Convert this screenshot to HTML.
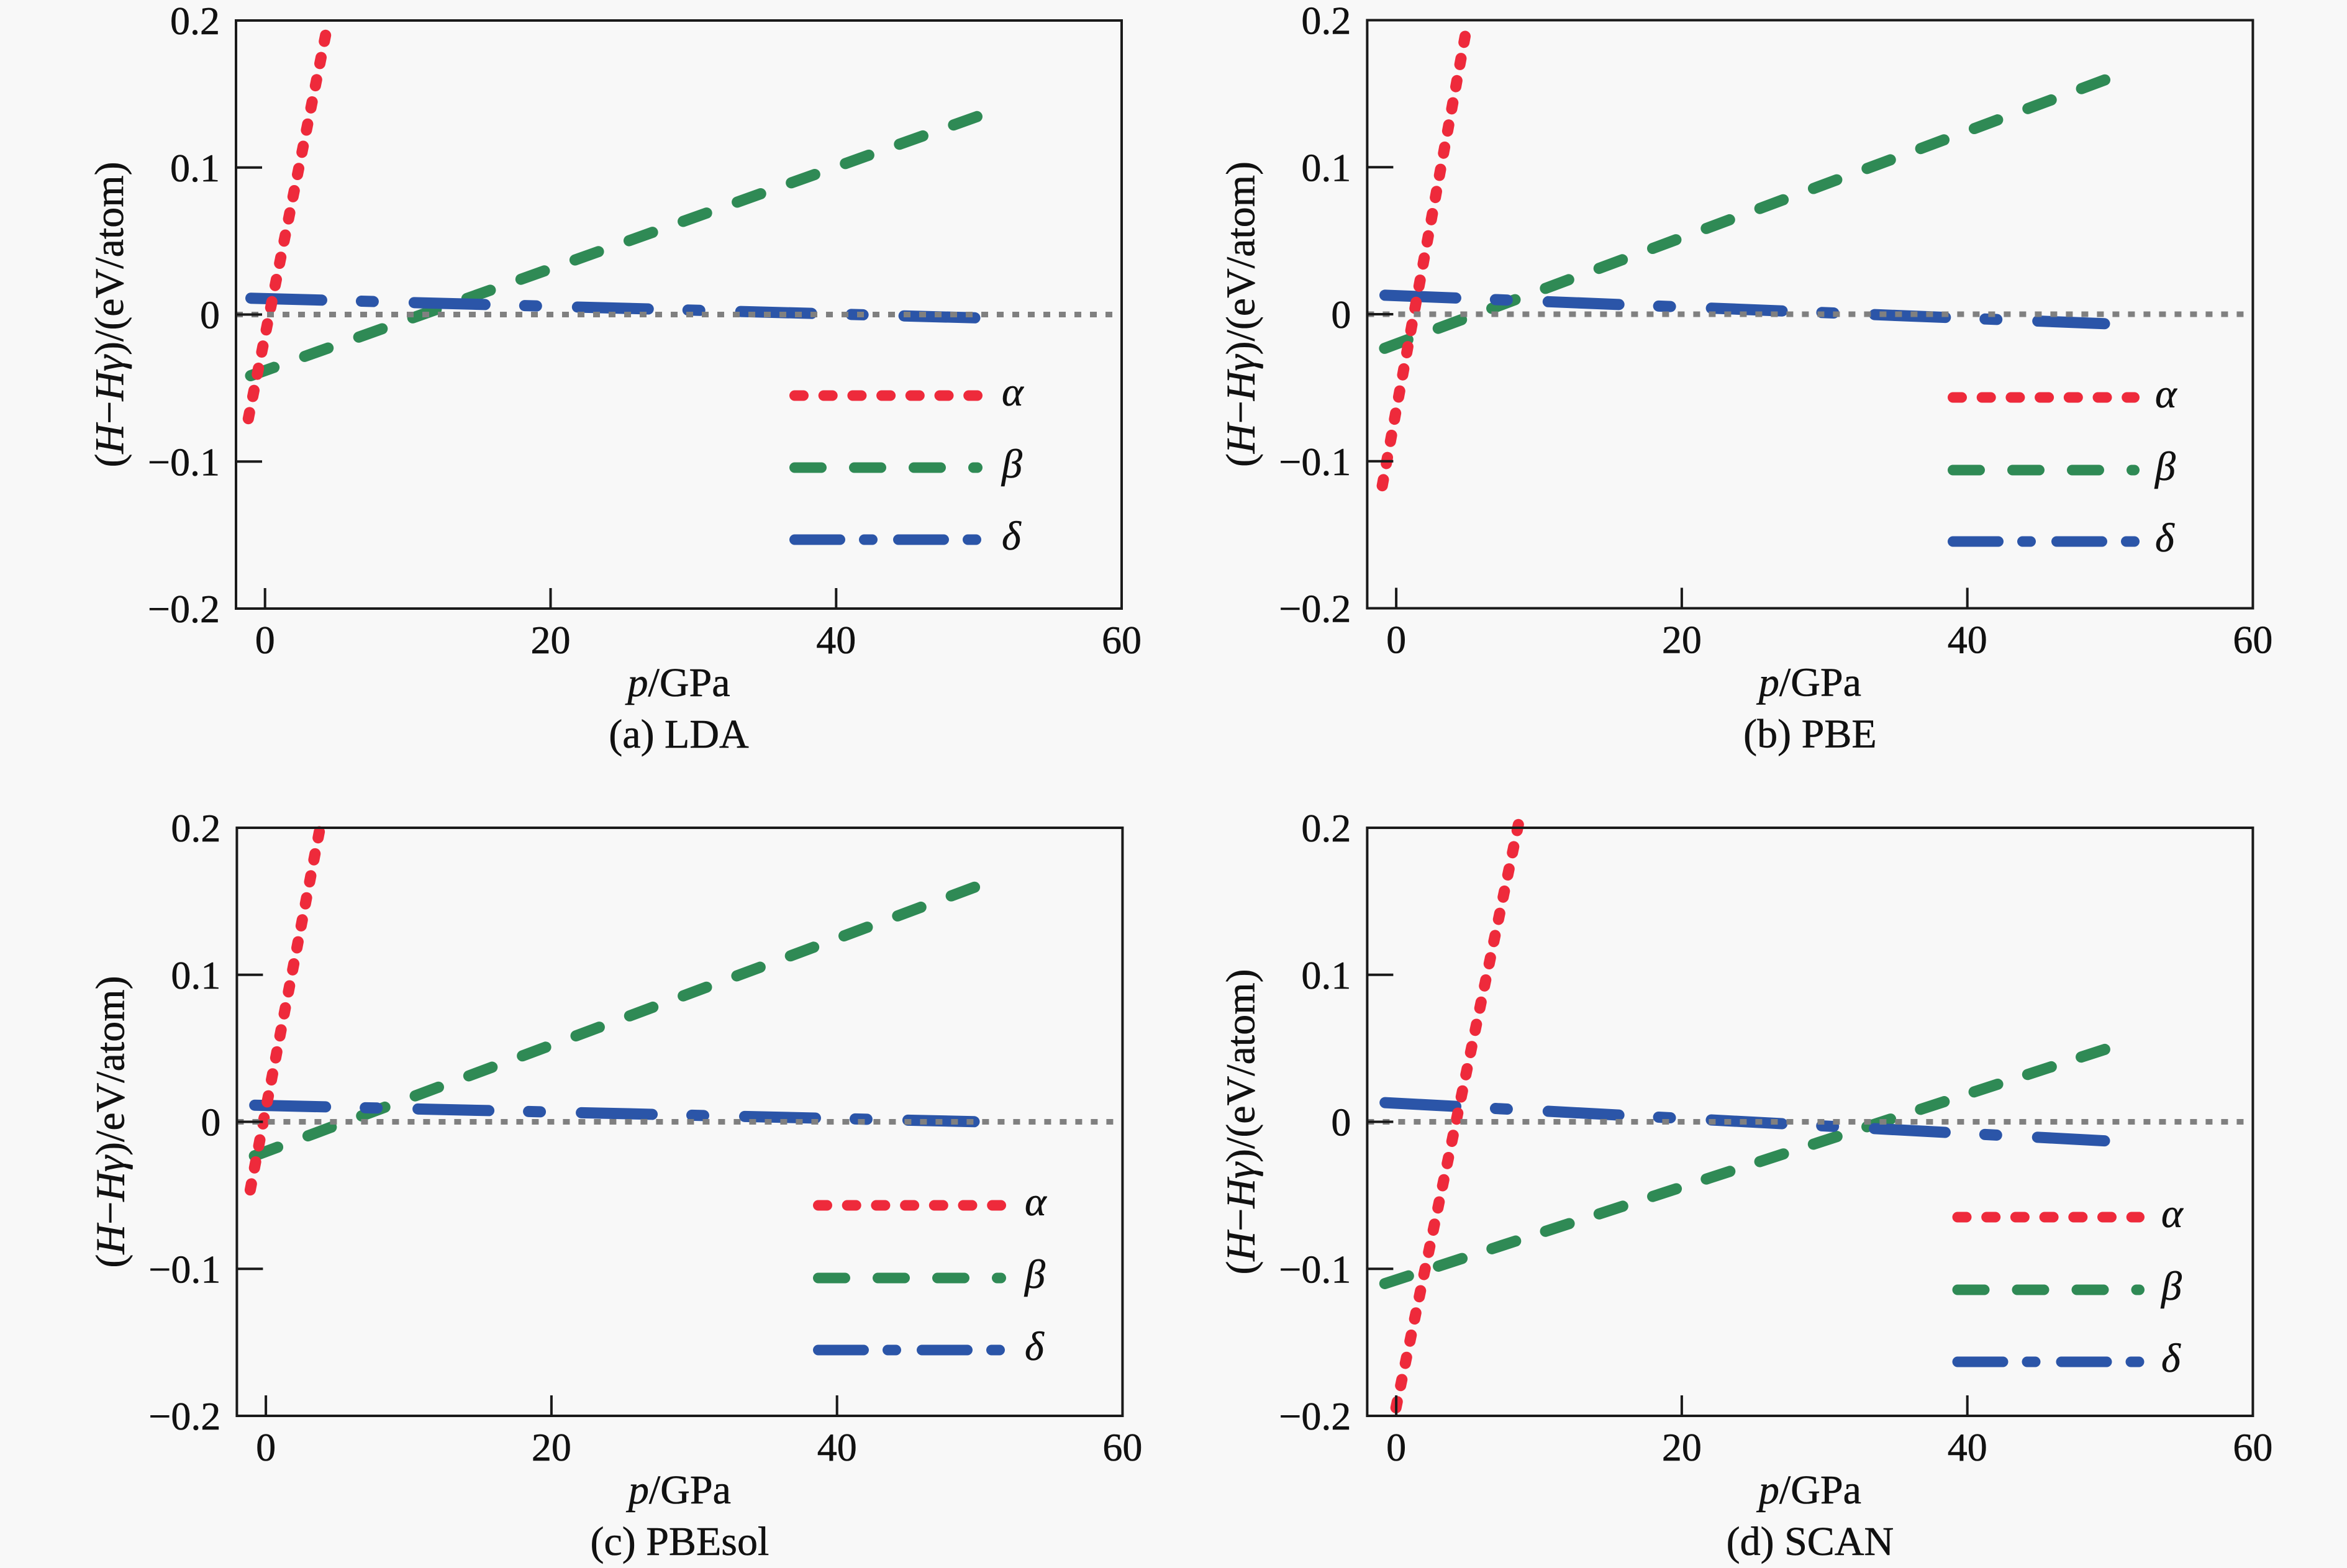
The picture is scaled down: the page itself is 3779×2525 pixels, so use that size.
<!DOCTYPE html>
<html>
<head>
<meta charset="utf-8">
<style>
html,body{margin:0;padding:0;background:#f8f8f8;}
svg{display:block;}
text{font-family:"Liberation Serif","Times New Roman",serif;fill:#111;stroke:#111;stroke-width:0.6px;}
.tl{font-size:64px;}
.lb{font-size:66px;}
.fr{fill:none;stroke:#1a1a1a;stroke-width:4;}
.tk{stroke:#1a1a1a;stroke-width:4;}
.zl{stroke:#808080;stroke-width:9;stroke-dasharray:11 14;}
.ra{fill:none;stroke:#ee2a3b;stroke-width:18;stroke-linecap:round;}
.gb{fill:none;stroke:#2f8a55;stroke-width:18;stroke-linecap:round;}
.bd{fill:none;stroke:#2b55a8;stroke-width:18;stroke-linecap:round;stroke-dasharray:114 64 19 66;}
.lra{fill:none;stroke:#ee2a3b;stroke-width:17;stroke-linecap:round;stroke-dasharray:14 32.7;}
.lgb{fill:none;stroke:#2f8a55;stroke-width:17;stroke-linecap:round;stroke-dasharray:43 53;}
.lbd{fill:none;stroke:#2b55a8;stroke-width:17;stroke-linecap:round;stroke-dasharray:73 39 13 42;}
.gr{font-size:66px;font-style:italic;}
</style>
</head>
<body>
<svg width="3779" height="2525" viewBox="0 0 3779 2525" xmlns="http://www.w3.org/2000/svg" font-family="'Liberation Serif', 'Times New Roman', serif">
<rect x="0" y="0" width="3779" height="2525" fill="#f8f8f8"/>

<!-- Data lines -->
<!-- (a) -->
<line class="gb" stroke-dasharray="40 52.44" x1="403.5" y1="605" x2="1573" y2="187.8"/>
<line class="bd" x1="404" y1="480.2" x2="1570" y2="511.8"/>
<line class="ra" stroke-dasharray="10 26.46" x1="399.8" y1="674.2" x2="524.2" y2="56.8"/>
<!-- (b) -->
<line class="gb" stroke-dasharray="40 52.12" x1="2229.4" y1="560.9" x2="3389.1" y2="128.7"/>
<line class="bd" x1="2230" y1="475.4" x2="3388.5" y2="521.3"/>
<line class="ra" stroke-dasharray="10 26.3" x1="2225.6" y1="782.2" x2="2359" y2="58.5"/>
<!-- (c) -->
<line class="gb" stroke-dasharray="40 52.12" x1="409.6" y1="1861.3" x2="1569.1" y2="1428.7"/>
<line class="bd" x1="410.2" y1="1779.8" x2="1568.5" y2="1806.3"/>
<line class="ra" stroke-dasharray="10 26.09" x1="402.9" y1="1916.2" x2="514.1" y2="1339.4"/>
<!-- (d) -->
<line class="gb" stroke-dasharray="40 50.7" x1="2229.8" y1="2067" x2="3388.9" y2="1689.9"/>
<line class="bd" x1="2230.2" y1="1775.6" x2="3388.5" y2="1837.1"/>
<line class="ra" stroke-dasharray="10 26.53" x1="2247.7" y1="2267" x2="2444.8" y2="1327.8"/>

<!-- Panel (a) -->
<g transform="translate(380,33)">
  <line class="zl" x1="0" y1="473.5" x2="1426" y2="473.5"/>
  <rect class="fr" x="0" y="0" width="1426" height="947"/>
  <line class="tk" x1="0" y1="236.75" x2="42" y2="236.75"/>
  <line class="tk" x1="0" y1="473.5" x2="42" y2="473.5"/>
  <line class="tk" x1="0" y1="710.25" x2="42" y2="710.25"/>
  <line class="tk" x1="46.7" y1="947" x2="46.7" y2="914"/>
  <line class="tk" x1="506.5" y1="947" x2="506.5" y2="914"/>
  <line class="tk" x1="966.3" y1="947" x2="966.3" y2="914"/>
  <g class="tl" text-anchor="end">
    <text x="-26" y="22">0.2</text>
    <text x="-26" y="258.75">0.1</text>
    <text x="-26" y="495.5">0</text>
    <text x="-26" y="732.25">−0.1</text>
    <text x="-26" y="969">−0.2</text>
  </g>
  <g class="tl" text-anchor="middle">
    <text x="46.7" y="1019">0</text>
    <text x="506.5" y="1019">20</text>
    <text x="966.3" y="1019">40</text>
    <text x="1426" y="1019">60</text>
  </g>
  <text class="lb" x="713" y="1088" text-anchor="middle"><tspan font-style="italic">p</tspan>/GPa</text>
  <text class="lb" x="713" y="1171" text-anchor="middle">(a) LDA</text>
  <text class="lb" transform="translate(-182,473.5) rotate(-90)" text-anchor="middle">(<tspan font-style="italic">H</tspan>−<tspan font-style="italic">Hγ</tspan>)/(eV/atom)</text>
</g>

<!-- Panel (b) -->
<g transform="translate(2201.4,32.5)">
  <line class="zl" x1="0" y1="473.5" x2="1426" y2="473.5"/>
  <rect class="fr" x="0" y="0" width="1426" height="947"/>
  <line class="tk" x1="0" y1="236.75" x2="42" y2="236.75"/>
  <line class="tk" x1="0" y1="473.5" x2="42" y2="473.5"/>
  <line class="tk" x1="0" y1="710.25" x2="42" y2="710.25"/>
  <line class="tk" x1="46.7" y1="947" x2="46.7" y2="914"/>
  <line class="tk" x1="506.5" y1="947" x2="506.5" y2="914"/>
  <line class="tk" x1="966.3" y1="947" x2="966.3" y2="914"/>
  <g class="tl" text-anchor="end">
    <text x="-26" y="22">0.2</text>
    <text x="-26" y="258.75">0.1</text>
    <text x="-26" y="495.5">0</text>
    <text x="-26" y="732.25">−0.1</text>
    <text x="-26" y="969">−0.2</text>
  </g>
  <g class="tl" text-anchor="middle">
    <text x="46.7" y="1019">0</text>
    <text x="506.5" y="1019">20</text>
    <text x="966.3" y="1019">40</text>
    <text x="1426" y="1019">60</text>
  </g>
  <text class="lb" x="713" y="1088" text-anchor="middle"><tspan font-style="italic">p</tspan>/GPa</text>
  <text class="lb" x="713" y="1171" text-anchor="middle">(b) PBE</text>
  <text class="lb" transform="translate(-182,473.5) rotate(-90)" text-anchor="middle">(<tspan font-style="italic">H</tspan>−<tspan font-style="italic">Hγ</tspan>)/(eV/atom)</text>
</g>

<!-- Panel (c) -->
<g transform="translate(381.4,1333)">
  <line class="zl" x1="0" y1="473.5" x2="1426" y2="473.5"/>
  <rect class="fr" x="0" y="0" width="1426" height="947"/>
  <line class="tk" x1="0" y1="236.75" x2="42" y2="236.75"/>
  <line class="tk" x1="0" y1="473.5" x2="42" y2="473.5"/>
  <line class="tk" x1="0" y1="710.25" x2="42" y2="710.25"/>
  <line class="tk" x1="46.7" y1="947" x2="46.7" y2="914"/>
  <line class="tk" x1="506.5" y1="947" x2="506.5" y2="914"/>
  <line class="tk" x1="966.3" y1="947" x2="966.3" y2="914"/>
  <g class="tl" text-anchor="end">
    <text x="-26" y="22">0.2</text>
    <text x="-26" y="258.75">0.1</text>
    <text x="-26" y="495.5">0</text>
    <text x="-26" y="732.25">−0.1</text>
    <text x="-26" y="969">−0.2</text>
  </g>
  <g class="tl" text-anchor="middle">
    <text x="46.7" y="1019">0</text>
    <text x="506.5" y="1019">20</text>
    <text x="966.3" y="1019">40</text>
    <text x="1426" y="1019">60</text>
  </g>
  <text class="lb" x="713" y="1088" text-anchor="middle"><tspan font-style="italic">p</tspan>/GPa</text>
  <text class="lb" x="713" y="1171" text-anchor="middle">(c) PBEsol</text>
  <text class="lb" transform="translate(-182,473.5) rotate(-90)" text-anchor="middle">(<tspan font-style="italic">H</tspan>−<tspan font-style="italic">Hγ</tspan>)/eV/atom)</text>
</g>

<!-- Panel (d) -->
<g transform="translate(2201.4,1333)">
  <line class="zl" x1="0" y1="473.5" x2="1426" y2="473.5"/>
  <rect class="fr" x="0" y="0" width="1426" height="947"/>
  <line class="tk" x1="0" y1="236.75" x2="42" y2="236.75"/>
  <line class="tk" x1="0" y1="473.5" x2="42" y2="473.5"/>
  <line class="tk" x1="0" y1="710.25" x2="42" y2="710.25"/>
  <line class="tk" x1="46.7" y1="947" x2="46.7" y2="914"/>
  <line class="tk" x1="506.5" y1="947" x2="506.5" y2="914"/>
  <line class="tk" x1="966.3" y1="947" x2="966.3" y2="914"/>
  <g class="tl" text-anchor="end">
    <text x="-26" y="22">0.2</text>
    <text x="-26" y="258.75">0.1</text>
    <text x="-26" y="495.5">0</text>
    <text x="-26" y="732.25">−0.1</text>
    <text x="-26" y="969">−0.2</text>
  </g>
  <g class="tl" text-anchor="middle">
    <text x="46.7" y="1019">0</text>
    <text x="506.5" y="1019">20</text>
    <text x="966.3" y="1019">40</text>
    <text x="1426" y="1019">60</text>
  </g>
  <text class="lb" x="713" y="1088" text-anchor="middle"><tspan font-style="italic">p</tspan>/GPa</text>
  <text class="lb" x="713" y="1171" text-anchor="middle">(d) SCAN</text>
  <text class="lb" transform="translate(-182,473.5) rotate(-90)" text-anchor="middle">(<tspan font-style="italic">H</tspan>−<tspan font-style="italic">Hγ</tspan>)/(eV/atom)</text>
</g>

<!-- Legends -->
<!-- (a) -->
<line class="lra" x1="1279.5" y1="637" x2="1573.5" y2="637"/>
<line class="lgb" x1="1279.5" y1="753" x2="1573.5" y2="753"/>
<line class="lbd" x1="1279.5" y1="869" x2="1573.5" y2="869"/>
<text class="gr" x="1613" y="653">α</text>
<text class="gr" x="1613" y="769">β</text>
<text class="gr" x="1613" y="885">δ</text>
<!-- (b) -->
<line class="lra" x1="3144.5" y1="640" x2="3436.5" y2="640"/>
<line class="lgb" x1="3144.5" y1="757" x2="3436.5" y2="757"/>
<line class="lbd" x1="3144.5" y1="872" x2="3436.5" y2="872"/>
<text class="gr" x="3470" y="656">α</text>
<text class="gr" x="3470" y="773">β</text>
<text class="gr" x="3470" y="888">δ</text>
<!-- (c) -->
<line class="lra" x1="1317.5" y1="1941" x2="1611.5" y2="1941"/>
<line class="lgb" x1="1317.5" y1="2058" x2="1611.5" y2="2058"/>
<line class="lbd" x1="1317.5" y1="2174" x2="1611.5" y2="2174"/>
<text class="gr" x="1650" y="1957">α</text>
<text class="gr" x="1650" y="2074">β</text>
<text class="gr" x="1650" y="2190">δ</text>
<!-- (d) -->
<line class="lra" x1="3152" y1="1960" x2="3444.5" y2="1960"/>
<line class="lgb" x1="3152" y1="2077" x2="3444.5" y2="2077"/>
<line class="lbd" x1="3152" y1="2193" x2="3444.5" y2="2193"/>
<text class="gr" x="3480" y="1976">α</text>
<text class="gr" x="3480" y="2093">β</text>
<text class="gr" x="3480" y="2209">δ</text>
</svg>
</body>
</html>
